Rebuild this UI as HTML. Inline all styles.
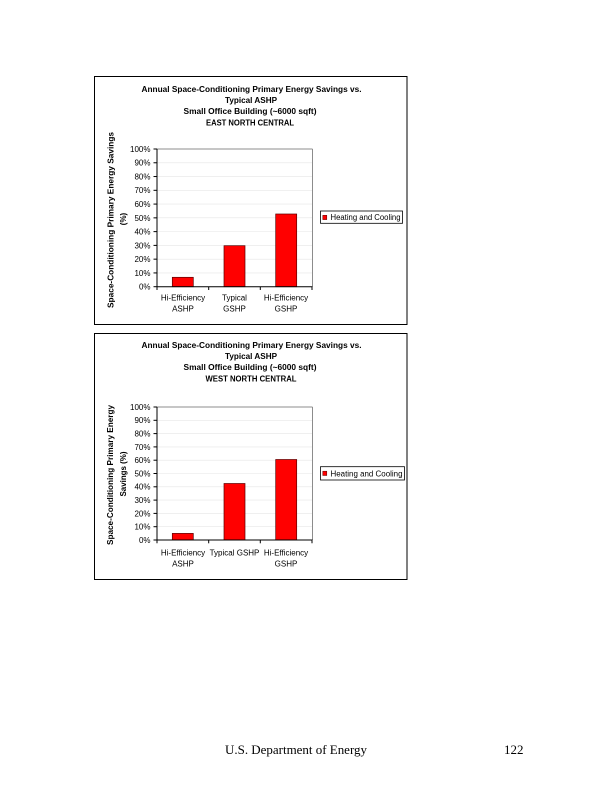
<!DOCTYPE html>
<html>
<head>
<meta charset="utf-8">
<style>
  html,body{margin:0;padding:0;background:#fff;}
  svg{display:block;}
  text{font-family:"Liberation Sans",Arial,sans-serif;fill:#000;}
  .t{font-size:8px;font-weight:bold;}
  .k{font-size:8px;}
  .f{font-family:"Liberation Serif","Times New Roman",serif;font-size:13px;}
</style>
</head>
<body>
<svg width="612" height="792" viewBox="0 0 612 792" xmlns="http://www.w3.org/2000/svg">
  <rect x="0" y="0" width="612" height="792" fill="#fff"/>

  <!-- ================= CHART 1 ================= -->
  <rect x="94.5" y="76.5" width="312.5" height="248" fill="#fff" stroke="#000" stroke-width="1"/>
  <text class="t" x="251.5" y="92" text-anchor="middle" textLength="220" lengthAdjust="spacingAndGlyphs">Annual Space-Conditioning Primary Energy Savings vs.</text>
  <text class="t" x="251" y="103" text-anchor="middle" textLength="52" lengthAdjust="spacingAndGlyphs">Typical ASHP</text>
  <text class="t" x="250" y="114" text-anchor="middle" textLength="133" lengthAdjust="spacingAndGlyphs">Small Office Building (~6000 sqft)</text>
  <text class="t" x="250" y="125.5" text-anchor="middle" textLength="88" lengthAdjust="spacingAndGlyphs">EAST NORTH CENTRAL</text>

  <!-- y title -->
  <text class="t" transform="translate(113.5,220) rotate(-90)" text-anchor="middle" textLength="176" lengthAdjust="spacingAndGlyphs">Space-Conditioning Primary Energy Savings</text>
  <text class="t" transform="translate(126,219) rotate(-90)" text-anchor="middle">(%)</text>

  <!-- gridlines -->
  <g stroke="#e6e6e6" stroke-width="0.6">
    <line x1="157" y1="272.93" x2="312" y2="272.93"/>
    <line x1="157" y1="259.16" x2="312" y2="259.16"/>
    <line x1="157" y1="245.39" x2="312" y2="245.39"/>
    <line x1="157" y1="231.62" x2="312" y2="231.62"/>
    <line x1="157" y1="217.85" x2="312" y2="217.85"/>
    <line x1="157" y1="204.08" x2="312" y2="204.08"/>
    <line x1="157" y1="190.31" x2="312" y2="190.31"/>
    <line x1="157" y1="176.54" x2="312" y2="176.54"/>
    <line x1="157" y1="162.77" x2="312" y2="162.77"/>
  </g>
  <!-- plot border top/right -->
  <line x1="157" y1="149" x2="312.5" y2="149" stroke="#8c8c8c" stroke-width="1"/>
  <line x1="312.5" y1="149" x2="312.5" y2="286.7" stroke="#8c8c8c" stroke-width="1"/>

  <!-- bars -->
  <g fill="#ff0000" stroke="#5a0000" stroke-width="0.7">
    <rect x="172.3" y="277.3" width="21" height="9.4"/>
    <rect x="224" y="245.7" width="21" height="41"/>
    <rect x="275.7" y="214" width="21" height="72.7"/>
  </g>

  <!-- axes -->
  <g stroke="#000" stroke-width="1">
    <line x1="157" y1="149" x2="157" y2="287"/>
    <line x1="157" y1="286.7" x2="312.5" y2="286.7"/>
    <line x1="153.5" y1="286.7" x2="157" y2="286.7"/>
    <line x1="153.5" y1="272.93" x2="157" y2="272.93"/>
    <line x1="153.5" y1="259.16" x2="157" y2="259.16"/>
    <line x1="153.5" y1="245.39" x2="157" y2="245.39"/>
    <line x1="153.5" y1="231.62" x2="157" y2="231.62"/>
    <line x1="153.5" y1="217.85" x2="157" y2="217.85"/>
    <line x1="153.5" y1="204.08" x2="157" y2="204.08"/>
    <line x1="153.5" y1="190.31" x2="157" y2="190.31"/>
    <line x1="153.5" y1="176.54" x2="157" y2="176.54"/>
    <line x1="153.5" y1="162.77" x2="157" y2="162.77"/>
    <line x1="153.5" y1="149" x2="157" y2="149"/>
    <line x1="157" y1="286.7" x2="157" y2="290"/>
    <line x1="208.7" y1="286.7" x2="208.7" y2="290"/>
    <line x1="260.3" y1="286.7" x2="260.3" y2="290"/>
    <line x1="312" y1="286.7" x2="312" y2="290"/>
  </g>

  <g class="k" text-anchor="end">
    <text class="k" x="150.5" y="289.6">0%</text>
    <text class="k" x="150.5" y="275.8">10%</text>
    <text class="k" x="150.5" y="262.1">20%</text>
    <text class="k" x="150.5" y="248.3">30%</text>
    <text class="k" x="150.5" y="234.5">40%</text>
    <text class="k" x="150.5" y="220.8">50%</text>
    <text class="k" x="150.5" y="207">60%</text>
    <text class="k" x="150.5" y="193.2">70%</text>
    <text class="k" x="150.5" y="179.4">80%</text>
    <text class="k" x="150.5" y="165.7">90%</text>
    <text class="k" x="150.5" y="151.9">100%</text>
  </g>

  <g text-anchor="middle">
    <text class="k" x="183" y="300.5">Hi-Efficiency</text>
    <text class="k" x="183" y="311.5">ASHP</text>
    <text class="k" x="234.5" y="300.5">Typical</text>
    <text class="k" x="234.5" y="311.5">GSHP</text>
    <text class="k" x="286" y="300.5">Hi-Efficiency</text>
    <text class="k" x="286" y="311.5">GSHP</text>
  </g>

  <!-- legend -->
  <rect x="320.5" y="211" width="82" height="12.3" fill="#fff" stroke="#000" stroke-width="0.8"/>
  <rect x="322.8" y="215.3" width="4" height="4.3" fill="#ff0000" stroke="#5a0000" stroke-width="0.5"/>
  <text class="k" x="330.5" y="220.2" textLength="70" lengthAdjust="spacingAndGlyphs">Heating and Cooling</text>

  <!-- ================= CHART 2 ================= -->
  <rect x="94.5" y="333.5" width="312.5" height="246" fill="#fff" stroke="#000" stroke-width="1"/>
  <text class="t" x="251.5" y="348" text-anchor="middle" textLength="220" lengthAdjust="spacingAndGlyphs">Annual Space-Conditioning Primary Energy Savings vs.</text>
  <text class="t" x="251" y="359" text-anchor="middle" textLength="52" lengthAdjust="spacingAndGlyphs">Typical ASHP</text>
  <text class="t" x="250" y="370" text-anchor="middle" textLength="133" lengthAdjust="spacingAndGlyphs">Small Office Building (~6000 sqft)</text>
  <text class="t" x="251" y="381.5" text-anchor="middle" textLength="91" lengthAdjust="spacingAndGlyphs">WEST NORTH CENTRAL</text>

  <text class="t" transform="translate(113,475) rotate(-90)" text-anchor="middle" textLength="140" lengthAdjust="spacingAndGlyphs">Space-Conditioning Primary Energy</text>
  <text class="t" transform="translate(126,474) rotate(-90)" text-anchor="middle" textLength="45" lengthAdjust="spacingAndGlyphs">Savings (%)</text>

  <g stroke="#e6e6e6" stroke-width="0.6">
    <line x1="157" y1="526.7" x2="312" y2="526.7"/>
    <line x1="157" y1="513.4" x2="312" y2="513.4"/>
    <line x1="157" y1="500.1" x2="312" y2="500.1"/>
    <line x1="157" y1="486.8" x2="312" y2="486.8"/>
    <line x1="157" y1="473.5" x2="312" y2="473.5"/>
    <line x1="157" y1="460.2" x2="312" y2="460.2"/>
    <line x1="157" y1="446.9" x2="312" y2="446.9"/>
    <line x1="157" y1="433.6" x2="312" y2="433.6"/>
    <line x1="157" y1="420.3" x2="312" y2="420.3"/>
  </g>
  <line x1="157" y1="407" x2="312.5" y2="407" stroke="#8c8c8c" stroke-width="1"/>
  <line x1="312.5" y1="407" x2="312.5" y2="540" stroke="#8c8c8c" stroke-width="1"/>

  <g fill="#ff0000" stroke="#5a0000" stroke-width="0.7">
    <rect x="172.3" y="533.4" width="21" height="6.6"/>
    <rect x="224" y="483.5" width="21" height="56.5"/>
    <rect x="275.7" y="459.5" width="21" height="80.5"/>
  </g>

  <g stroke="#000" stroke-width="1">
    <line x1="157" y1="407" x2="157" y2="540.3"/>
    <line x1="157" y1="540" x2="312.5" y2="540"/>
    <line x1="153.5" y1="540" x2="157" y2="540"/>
    <line x1="153.5" y1="526.7" x2="157" y2="526.7"/>
    <line x1="153.5" y1="513.4" x2="157" y2="513.4"/>
    <line x1="153.5" y1="500.1" x2="157" y2="500.1"/>
    <line x1="153.5" y1="486.8" x2="157" y2="486.8"/>
    <line x1="153.5" y1="473.5" x2="157" y2="473.5"/>
    <line x1="153.5" y1="460.2" x2="157" y2="460.2"/>
    <line x1="153.5" y1="446.9" x2="157" y2="446.9"/>
    <line x1="153.5" y1="433.6" x2="157" y2="433.6"/>
    <line x1="153.5" y1="420.3" x2="157" y2="420.3"/>
    <line x1="153.5" y1="407" x2="157" y2="407"/>
    <line x1="157" y1="540" x2="157" y2="543.3"/>
    <line x1="208.7" y1="540" x2="208.7" y2="543.3"/>
    <line x1="260.3" y1="540" x2="260.3" y2="543.3"/>
    <line x1="312" y1="540" x2="312" y2="543.3"/>
  </g>

  <g text-anchor="end">
    <text class="k" x="150.5" y="542.9">0%</text>
    <text class="k" x="150.5" y="529.6">10%</text>
    <text class="k" x="150.5" y="516.3">20%</text>
    <text class="k" x="150.5" y="503">30%</text>
    <text class="k" x="150.5" y="489.7">40%</text>
    <text class="k" x="150.5" y="476.4">50%</text>
    <text class="k" x="150.5" y="463.1">60%</text>
    <text class="k" x="150.5" y="449.8">70%</text>
    <text class="k" x="150.5" y="436.5">80%</text>
    <text class="k" x="150.5" y="423.2">90%</text>
    <text class="k" x="150.5" y="409.9">100%</text>
  </g>

  <g text-anchor="middle">
    <text class="k" x="183" y="555.5">Hi-Efficiency</text>
    <text class="k" x="183" y="566.5">ASHP</text>
    <text class="k" x="234.5" y="555.5">Typical GSHP</text>
    <text class="k" x="286" y="555.5">Hi-Efficiency</text>
    <text class="k" x="286" y="566.5">GSHP</text>
  </g>

  <rect x="320.5" y="466.7" width="84" height="13.3" fill="#fff" stroke="#000" stroke-width="0.8"/>
  <rect x="322.8" y="471.2" width="4" height="4.3" fill="#ff0000" stroke="#5a0000" stroke-width="0.5"/>
  <text class="k" x="330.5" y="476.3" textLength="72" lengthAdjust="spacingAndGlyphs">Heating and Cooling</text>

  <!-- footer -->
  <text class="f" x="225" y="754" textLength="142" lengthAdjust="spacingAndGlyphs">U.S. Department of Energy</text>
  <text class="f" x="504" y="754">122</text>
</svg>
</body>
</html>
